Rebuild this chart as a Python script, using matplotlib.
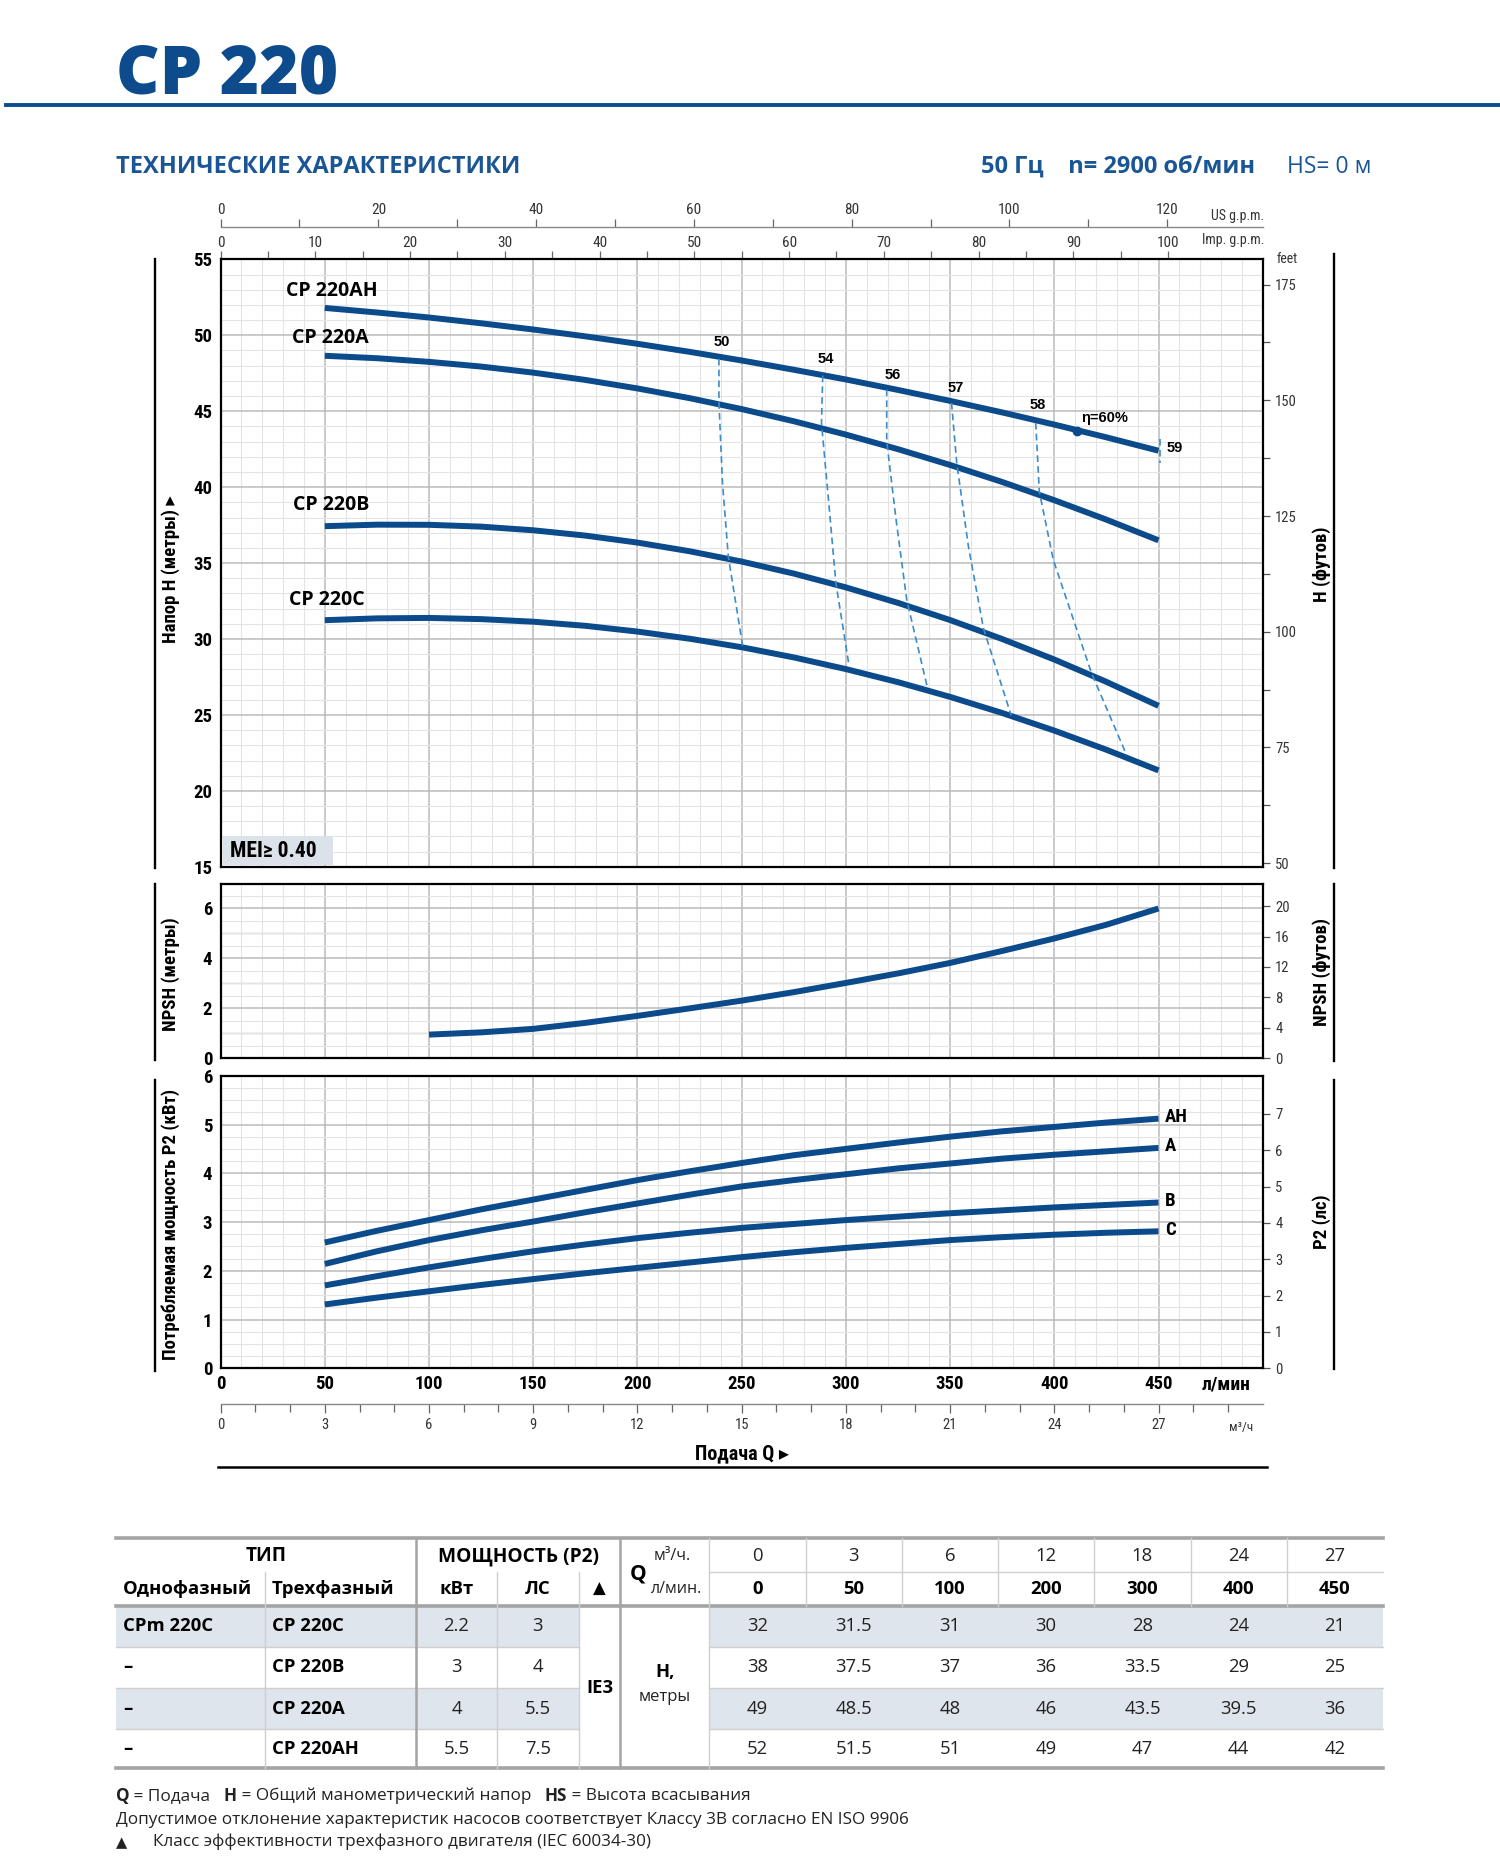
import matplotlib
matplotlib.use('Agg')
import matplotlib.pyplot as plt
from matplotlib import font_manager
from matplotlib.lines import Line2D
from matplotlib.patches import Rectangle
import numpy as np

names = {f.name for f in font_manager.fontManager.ttflist}
def pick(*c):
    for n in c:
        if n in names:
            return n
    return 'DejaVu Sans'
NARROW = pick('Liberation Sans Narrow', 'Roboto Condensed', 'Liberation Sans')
HUM = pick('Open Sans', 'Noto Sans', 'Lato')
ARIAL = pick('Liberation Sans', 'DejaVu Sans')
plt.rcParams['font.family'] = [HUM, 'DejaVu Sans']

# ---------------- data ----------------
q_h = [50, 75, 100, 125, 150, 175, 200, 225, 250, 275, 300, 325, 350, 375, 400, 425, 450]
h_ah = [51.8, 51.5, 51.17, 50.79, 50.38, 49.93, 49.44, 48.91, 48.34, 47.73, 47.09, 46.40, 45.68, 44.92, 44.12, 43.28, 42.4]
h_a = [48.65, 48.49, 48.25, 47.94, 47.54, 47.06, 46.50, 45.86, 45.14, 44.34, 43.46, 42.50, 41.46, 40.34, 39.14, 37.86, 36.5]
h_b = [37.43, 37.53, 37.52, 37.40, 37.16, 36.81, 36.35, 35.78, 35.10, 34.31, 33.40, 32.38, 31.25, 30.00, 28.65, 27.18, 25.6]
h_c = [31.24, 31.36, 31.39, 31.31, 31.14, 30.87, 30.49, 30.02, 29.46, 28.79, 28.02, 27.16, 26.19, 25.13, 23.97, 22.71, 21.35]
h_names = ['CP 220AH', 'CP 220A', 'CP 220B', 'CP 220C']

# iso-efficiency lines (Q l/min, H m)
eff_labels = ['50', '54', '56', '57', '58', '59']
eff_q = [[239.1, 239.1, 240.8, 243.6, 250.5],
         [288.9, 288.3, 291.8, 295.2, 301.5],
         [319.6, 319.6, 324.1, 329.2, 339.2],
         [350.7, 353.2, 358.8, 366.0, 379.3],
         [391.1, 392.8, 399.5, 406.0, 417.9, 434.7],
         [450.5, 450.5]]
eff_h = [[48.45, 45.57, 40.3, 35.43, 29.53],
         [47.35, 44.23, 38.96, 33.7, 28.27],
         [46.43, 43.02, 37.85, 32.59, 26.75],
         [45.55, 41.59, 36.09, 30.71, 24.97],
         [44.23, 39.72, 35.22, 32.57, 27.74, 22.36],
         [43.2, 41.6]]
best_q, best_h = 411, 43.7

q_npsh = [100, 125, 150, 175, 200, 225, 250, 275, 300, 325, 350, 375, 400, 425, 450]
npsh = [0.95, 1.04, 1.18, 1.42, 1.70, 2.00, 2.31, 2.65, 3.02, 3.40, 3.82, 4.30, 4.80, 5.35, 6.0]

q_p = [50, 75, 100, 125, 150, 175, 200, 225, 250, 275, 300, 325, 350, 375, 400, 425, 450]
p_ah = [2.58, 2.82, 3.04, 3.26, 3.46, 3.66, 3.86, 4.04, 4.21, 4.37, 4.50, 4.63, 4.75, 4.86, 4.95, 5.04, 5.12]
p_a = [2.14, 2.40, 2.63, 2.83, 3.01, 3.20, 3.38, 3.56, 3.73, 3.86, 3.98, 4.10, 4.20, 4.30, 4.38, 4.45, 4.52]
p_b = [1.70, 1.89, 2.07, 2.24, 2.40, 2.54, 2.67, 2.78, 2.88, 2.96, 3.04, 3.11, 3.18, 3.24, 3.30, 3.35, 3.40]
p_c = [1.31, 1.45, 1.58, 1.71, 1.83, 1.95, 2.06, 2.17, 2.28, 2.38, 2.47, 2.55, 2.63, 2.69, 2.74, 2.78, 2.81]
p_names = ['AH', 'A', 'B', 'C']

# table
tab_m3h = ['0', '3', '6', '12', '18', '24', '27']
tab_lmin = ['0', '50', '100', '200', '300', '400', '450']
tab_single = ['CPm 220C', '–', '–', '–']
tab_three = ['CP 220C', 'CP 220B', 'CP 220A', 'CP 220AH']
tab_kw = ['2.2', '3', '4', '5.5']
tab_hp = ['3', '4', '5.5', '7.5']
tab_h = [['32', '31.5', '31', '30', '28', '24', '21'],
         ['38', '37.5', '37', '36', '33.5', '29', '25'],
         ['49', '48.5', '48', '46', '43.5', '39.5', '36'],
         ['52', '51.5', '51', '49', '47', '44', '42']]

# ---------------- layout helpers ----------------
W, HD = 1258.0, 1567.5
def fx(x): return x / W
def fy(y): return 1 - y / HD
def rect(x0, y0, x1, y1): return [fx(x0), fy(y1), fx(x1) - fx(x0), fy(y0) - fy(y1)]

BLUE = '#0b4a8b'
HBLUE = '#0d4b8c'
DASH = '#3a8ccb'

fig = plt.figure(figsize=(15, 18.69), dpi=100)
fig.patch.set_facecolor('white')

def fline(xs, ys, **kw):
    fig.add_artist(Line2D([fx(x) for x in xs], [fy(y) for y in ys], transform=fig.transFigure, **kw))

def ftext(x, y, s, **kw):
    return fig.text(fx(x), fy(y), s, **kw)

H_TOP, H_BOT = 217.5, 727
N_TOP, N_BOT = 741, 887.6
P_TOP, P_BOT = 902.2, 1147.6
X0, X1 = 185, 1059

axH = fig.add_axes(rect(X0, H_TOP, X1, H_BOT))
axN = fig.add_axes(rect(X0, N_TOP, X1, N_BOT))
axP = fig.add_axes(rect(X0, P_TOP, X1, P_BOT))

def style(ax, ymaj, ymin, ylim, grid_major=None):
    ax.set_xlim(0, 500)
    ax.set_ylim(*ylim)
    ax.set_xticks(np.arange(0, 501, 50))
    ax.set_xticks(np.arange(0, 501, 10), minor=True)
    ax.set_yticks(ymaj, labels=[f'{v:g}' for v in ymaj], fontfamily=NARROW,
                  fontweight='bold', fontsize=13.5)
    ax.set_yticks(ymin, minor=True)
    ax.grid(which='major', color='#bababa', lw=1.1)
    ax.grid(which='minor', color='#e4e4e4', lw=0.8)
    ax.set_axisbelow(True)
    ax.tick_params(which='both', length=0)
    ax.tick_params(axis='y', pad=6)
    for s in ax.spines.values():
        s.set_color('black')
        s.set_linewidth(1.6)
    if grid_major is not None:
        for v in grid_major:
            ax.axhline(v, color='#c4c4c4', lw=1.0, zorder=0.5)

style(axH, np.arange(15, 56, 5), np.arange(15, 56, 1), (15, 55))
style(axN, [0, 2, 4, 6], np.arange(0, 7.01, 0.5), (0, 7), grid_major=[1, 3, 5])
style(axP, np.arange(0, 7, 1), np.arange(0, 6.01, 0.25), (0, 6))
axH.tick_params(labelbottom=False)
axN.tick_params(labelbottom=False)

axP.set_xticks(np.arange(0, 501, 50),
               labels=[str(v) if v < 500 else '' for v in range(0, 501, 50)],
               fontfamily=NARROW, fontweight='bold', fontsize=13.5)
axP.tick_params(axis='x', pad=5)

# ---- H curves
for hv in (h_ah, h_a, h_b, h_c):
    axH.plot(q_h, hv, color=BLUE, lw=4.3, solid_capstyle='butt', zorder=3)
lab_pos = [(31.5, 52.9), (34.3, 49.8), (34.9, 38.8), (32.6, 32.6)]
for nm, (qx, hy) in zip(h_names, lab_pos):
    axH.text(qx, hy, nm, fontsize=14, fontweight='bold', ha='left', va='center', zorder=5)

for lab, qs, hs in zip(eff_labels, eff_q, eff_h):
    axH.plot(qs, hs, color=DASH, lw=1.2, dashes=(4, 2.5), zorder=4)
eff_lab_pos = [(240.3, 49.55), (290.6, 48.45), (322.7, 47.4), (352.5, 46.55), (391.9, 45.4)]
for lab, (qx, hy) in zip(eff_labels[:5], eff_lab_pos):
    axH.text(qx, hy, lab, fontfamily=ARIAL, fontweight='bold', fontsize=10.5,
             ha='center', va='center', zorder=6)
axH.text(454, 42.6, eff_labels[5], fontfamily=ARIAL, fontweight='bold', fontsize=10.5,
         ha='left', va='center', zorder=6)
axH.plot([best_q], [best_h], 'o', color=BLUE, ms=6, zorder=6)
axH.text(413, 44.55, 'η=60%', fontfamily=[ARIAL, 'DejaVu Sans'], fontweight='bold',
         fontsize=10.5, ha='left', va='center', zorder=6)

# MEI box
axH.add_patch(Rectangle((1.2, 15.15), 52.5, 1.85, facecolor='#dbe2ea', edgecolor='none', zorder=4))
axH.text(4.3, 16.05, 'MEI≥ 0.40', fontfamily=[NARROW, 'DejaVu Sans'], fontweight='bold',
         fontsize=15.5, ha='left', va='center', zorder=5)

# ---- NPSH
axN.plot(q_npsh, npsh, color=BLUE, lw=4.3, solid_capstyle='butt', zorder=3)

# ---- power
for pv in (p_ah, p_a, p_b, p_c):
    axP.plot(q_p, pv, color=BLUE, lw=4.3, solid_capstyle='butt', zorder=3)
for nm, pv in zip(p_names, (p_ah, p_a, p_b, p_c)):
    axP.text(453, pv[-1] + 0.03, nm, fontfamily=NARROW, fontweight='bold', fontsize=13.5,
             ha='left', va='center')

# ---- secondary axes right
def sec_right(ax, fwd, inv, maj, mino=None):
    s = ax.secondary_yaxis('right', functions=(fwd, inv))
    s.set_yticks(maj, labels=[f'{v:g}' for v in maj], fontfamily=NARROW, fontsize=10.5,
                 color='#333333')
    if mino is not None:
        s.set_yticks(mino, minor=True)
    s.tick_params(which='both', direction='out', length=5, width=0.9, color='#555555', pad=4)
    s.spines['right'].set_visible(False)
    return s

sec_right(axH, lambda m: m / 0.3048, lambda f: f * 0.3048, [50, 75, 100, 125, 150, 175],
          np.arange(62.5, 176, 25))
sec_right(axN, lambda m: m / 0.3048, lambda f: f * 0.3048, [0, 4, 8, 12, 16, 20])
sec_right(axP, lambda k: k / 0.7457, lambda h: h * 0.7457, [0, 1, 2, 3, 4, 5, 6, 7])

# ---- top axes
imp = axH.secondary_xaxis('top', functions=(lambda q: q / 4.546, lambda g: g * 4.546))
imp.set_xticks(np.arange(0, 101, 10), labels=[str(v) for v in range(0, 101, 10)],
               fontfamily=NARROW, fontsize=11, color='#333333')
imp.set_xticks(np.arange(5, 100, 10), minor=True)
imp.tick_params(which='both', direction='out', length=5.5, width=0.9, color='#666666', pad=1.5)
imp.spines['top'].set_visible(False)

us_loc = 1 + (H_TOP - 190) / (H_BOT - H_TOP)
us = axH.secondary_xaxis(us_loc, functions=(lambda q: q / 3.785, lambda g: g * 3.785))
us.set_xticks(np.arange(0, 121, 20), labels=[str(v) for v in range(0, 121, 20)],
              fontfamily=NARROW, fontsize=11, color='#333333')
us.set_xticks(np.arange(10, 120, 20), minor=True)
us.tick_params(which='both', direction='out', length=5.5, width=0.9, color='#666666', pad=1.5)
us.spines['top'].set_color('#888888')
us.spines['top'].set_linewidth(1.0)

ftext(1060, 181, 'US g.p.m.', fontfamily=NARROW, fontsize=10, ha='right', va='center', color='#333333')
ftext(1060, 201, 'Imp. g.p.m.', fontfamily=NARROW, fontsize=10, ha='right', va='center', color='#333333')
ftext(1071, 217, 'feet', fontfamily=NARROW, fontsize=10, ha='left', va='center', color='#333333')

# ---- bottom m3/h axis
m3_loc = -(1177.5 - P_BOT) / (P_BOT - P_TOP)
m3 = axP.secondary_xaxis(m3_loc, functions=(lambda q: q * 0.06, lambda m: m / 0.06))
m3.set_xticks(np.arange(0, 28, 3), labels=[str(v) for v in range(0, 28, 3)],
              fontfamily=NARROW, fontsize=10.5, color='#333333')
m3.set_xticks(np.arange(0, 30, 1), minor=True)
m3.tick_params(which='major', direction='out', length=6.5, width=0.9, color='#666666', pad=3.5)
m3.tick_params(which='minor', direction='out', length=5.5, width=0.9, color='#666666')
m3.spines['bottom'].set_color('#888888')
m3.spines['bottom'].set_linewidth(1.0)

ftext(1008, 1161, 'л/мин', fontfamily=NARROW, fontweight='bold', fontsize=14, ha='left', va='center')
ftext(1031, 1197, 'м³/ч', fontfamily=[NARROW, 'DejaVu Sans'], fontsize=9.5, ha='left', va='center', color='#333333')
ftext(622, 1219, 'Подача Q ▸', fontfamily=[NARROW, 'DejaVu Sans'], fontweight='bold', fontsize=14.5,
      ha='center', va='center')
fline([183, 1063], [1230, 1230], color='black', lw=1.8)

# ---- side bars and labels
for (y0, y1) in [(217, 728), (741, 889), (906, 1150)]:
    fline([130, 130], [y0, y1], color='black', lw=1.7)
for (y0, y1) in [(213, 728), (741, 890), (906, 1148)]:
    fline([1119, 1119], [y0, y1], color='black', lw=1.7)
lk = dict(fontfamily=[NARROW, 'DejaVu Sans'], fontweight='bold', fontsize=13.5, rotation=90,
          ha='center', va='center')
ftext(143, 477, 'Напор H (метры) ▸', **lk)
ftext(143, 817, 'NPSH (метры)', **lk)
ftext(143, 1027, 'Потребляемая мощность P2 (кВт)', **lk)
ftext(1108, 473, 'H (футов)', **lk)
ftext(1108, 815, 'NPSH (футов)', **lk)
ftext(1108, 1025, 'P2 (лс)', **lk)

# ---- header
ftext(97, 78, 'CP 220', fontsize=48.5, fontweight='heavy', color=HBLUE, ha='left', va='baseline')
fline([5, 1258], [88, 88], color=HBLUE, lw=2.8)
ftext(97, 145, 'ТЕХНИЧЕСКИЕ ХАРАКТЕРИСТИКИ', fontsize=17, fontweight='bold', color='#1a5695',
      ha='left', va='baseline')
ftext(1150, 145, 'HS= 0 м', fontsize=16.5, color='#1a5695', ha='right', va='baseline')
ftext(1053, 145, '50 Гц    n= 2900 об/мин', fontsize=17, fontweight='bold', color='#1a5695',
      ha='right', va='baseline')

# ---- table
TX0, TX1 = 97, 1160
ty = [1290, 1318, 1347, 1381, 1416, 1450, 1483]
vcol = [595 + i * 80.7 for i in range(8)]
GRAY = '#a4a4a4'
LIGHT = '#cfcfcf'
SHADE = '#dfe5ec'
for r in (0, 2):
    for (a, b) in [(TX0, 485.3), (595, TX1)]:
        fig.add_artist(Rectangle((fx(a), fy(ty[r + 3])), fx(b) - fx(a), fy(ty[r + 2]) - fy(ty[r + 3]),
                                 transform=fig.transFigure, facecolor=SHADE, edgecolor='none'))
for y in ty[3:6]:
    fline([TX0, 485.3], [y, y], color=LIGHT, lw=1.0)
    fline([595, TX1], [y, y], color=LIGHT, lw=1.0)
fline([595, TX1], [1318, 1318], color=LIGHT, lw=1.0)
for y in (1290, 1347, 1483):
    fline([TX0, TX1], [y, y], color=GRAY, lw=2.6)
for x in (348.6, 520.3):
    fline([x, x], [1290, 1483], color=GRAY, lw=1.8)
for x in (222, 417, 485.3):
    fline([x, x], [1318, 1483], color=LIGHT, lw=1.0)
fline([595, 595], [1290, 1483], color=LIGHT, lw=1.0)
for x in vcol[1:-1]:
    fline([x, x], [1290, 1347], color=LIGHT, lw=1.0)

TF = 13.3
ftext(222.8, 1305, 'ТИП', fontsize=13.8, fontweight='bold', ha='center', va='center')
ftext(434.5, 1305, 'МОЩНОСТЬ (P2)', fontsize=13.8, fontweight='bold', ha='center', va='center')
ftext(535, 1320, 'Q', fontsize=15, fontweight='bold', ha='center', va='center')
ftext(548, 1305, 'м³/ч.', fontsize=11.5, ha='left', va='center', color='#222222')
ftext(546, 1333, 'л/мин.', fontsize=11.5, ha='left', va='center', color='#222222')
ftext(103, 1333, 'Однофазный', fontsize=TF, fontweight='bold', ha='left', va='center')
ftext(228, 1333, 'Трехфазный', fontsize=TF, fontweight='bold', ha='left', va='center')
ftext(382.8, 1333, 'кВт', fontsize=TF, fontweight='bold', ha='center', va='center')
ftext(451, 1333, 'ЛС', fontsize=TF, fontweight='bold', ha='center', va='center')
ftext(503, 1333, '▲', fontsize=12, ha='center', va='center', fontfamily='DejaVu Sans')
for i in range(7):
    cx = (vcol[i] + vcol[i + 1]) / 2
    ftext(cx, 1305, tab_m3h[i], fontsize=TF, ha='center', va='center', color='#222222')
    ftext(cx, 1333, tab_lmin[i], fontsize=TF, fontweight='bold', ha='center', va='center')
rc = [(ty[k] + ty[k + 1]) / 2 for k in range(2, 6)]
for r in range(4):
    ftext(103, rc[r], tab_single[r], fontsize=TF, fontweight='bold', ha='left', va='center')
    ftext(228, rc[r], tab_three[r], fontsize=TF, fontweight='bold', ha='left', va='center')
    ftext(382.8, rc[r], tab_kw[r], fontsize=TF, ha='center', va='center', color='#222222')
    ftext(451, rc[r], tab_hp[r], fontsize=TF, ha='center', va='center', color='#222222')
    for i in range(7):
        cx = (vcol[i] + vcol[i + 1]) / 2
        ftext(cx, rc[r], tab_h[r][i], fontsize=TF, ha='center', va='center', color='#222222')
ftext(502.8, 1416, 'IE3', fontsize=TF, fontweight='bold', ha='center', va='center')
ftext(557.6, 1402, 'H,', fontsize=TF, fontweight='bold', ha='center', va='center')
ftext(557.6, 1423, 'метры', fontsize=12, ha='center', va='center', color='#222222')

# ---- footnotes
renderer = fig.canvas.get_renderer()
FN = 12.3
def chain(x, y, parts):
    xp = fx(x)
    for s, bold in parts:
        t = fig.text(xp, fy(y), s, fontsize=FN, fontweight='bold' if bold else 'normal',
                     ha='left', va='center', color='#222222')
        bb = t.get_window_extent(renderer=renderer)
        xp += bb.width / fig.bbox.width
chain(97, 1506, [('Q', True), (' = Подача   ', False), ('H', True),
                 (' = Общий манометрический напор   ', False), ('HS', True),
                 (' = Высота всасывания', False)])
ftext(97, 1526, 'Допустимое отклонение характеристик насосов соответствует Классу 3В согласно EN ISO 9906',
      fontsize=FN, ha='left', va='center', color='#222222')
ftext(97, 1545, '▲', fontsize=10.5, ha='left', va='center', fontfamily='DejaVu Sans', color='#222222')
ftext(128, 1545, 'Класс эффективности трехфазного двигателя (IEC 60034-30)',
      fontsize=FN, ha='left', va='center', color='#222222')

fig.savefig('out.png', dpi=100, facecolor='white')
